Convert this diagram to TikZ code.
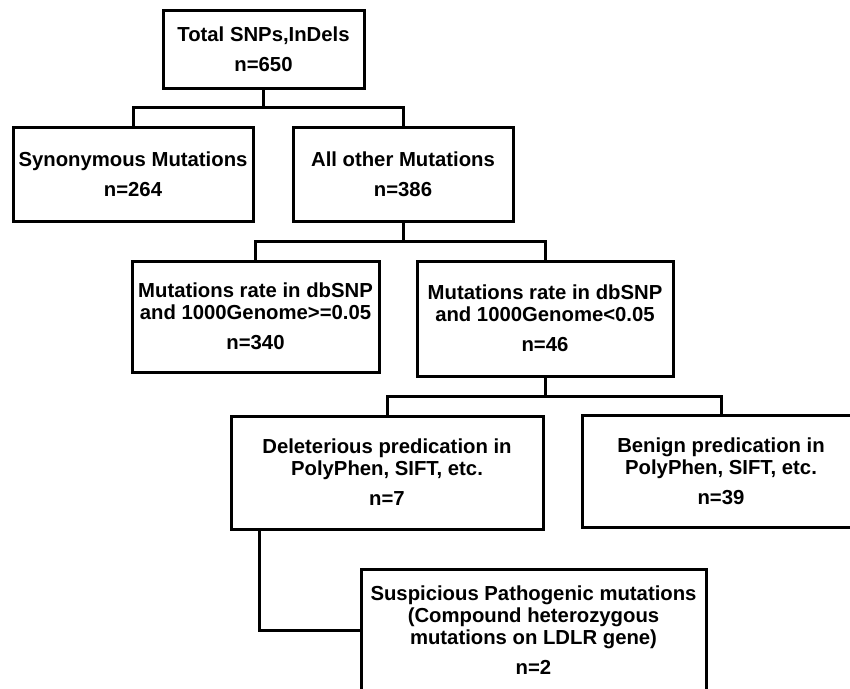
\documentclass[tikz,border=0pt]{standalone}
\usepackage{fontspec}
\setmainfont{Liberation Sans}
\begin{document}
\begin{tikzpicture}[x=1pt,y=-1pt,
  box/.style={draw,line width=3pt,rectangle,inner sep=2pt,align=center,
    font=\fontsize{20.3}{22}\selectfont\bfseries},
  link/.style={line width=3pt}]
\useasboundingbox (0,0) rectangle (850,688);
\clip (0,0) rectangle (850,688);
\fill[white] (0,0) rectangle (850,688);
\node[box,minimum width=201,minimum height=78] (tot) at (263.5,49) {Total SNPs,InDels\\[8pt]n=650};
\node[box,minimum width=240,minimum height=94] (syn) at (133,174) {Synonymous Mutations\\[8pt]n=264};
\node[box,minimum width=220,minimum height=94] (oth) at (403,174) {All other Mutations\\[8pt]n=386};
\node[box,minimum width=247,minimum height=111] (hi) at (255.5,316.5) {Mutations rate in dbSNP\\and 1000Genome>=0.05\\[8pt]n=340};
\node[box,minimum width=256,minimum height=115] (lo) at (545,318.5) {Mutations rate in dbSNP\\and 1000Genome<0.05\\[8pt]n=46};
\node[box,minimum width=312,minimum height=113] (del) at (387,472.5) {Deleterious predication in\\PolyPhen, SIFT, etc.\\[8pt]n=7};
\node[box,minimum width=278,minimum height=112] (ben) at (721,471) {Benign predication in\\PolyPhen, SIFT, etc.\\[8pt]n=39};
\node[box,minimum width=345,minimum height=123] (sus) at (533.5,630.5) {Suspicious Pathogenic mutations\\(Compound heterozygous\\mutations on LDLR gene)\\[8pt]n=2};
\coordinate (b1) at (0,107);
\coordinate (b2) at (0,241);
\coordinate (b3) at (0,396);
\draw[link] (tot.south) -- (tot.south |- b1);
\draw[link] (syn.north) -- (syn.north |- b1) -- (oth.north |- b1) -- (oth.north);
\draw[link] (oth.south) -- (oth.south |- b2);
\draw[link] (hi.north) -- (hi.north |- b2) -- (lo.north |- b2) -- (lo.north);
\draw[link] (lo.south) -- (lo.south |- b3);
\draw[link] (del.north) -- (del.north |- b3) -- (ben.north |- b3) -- (ben.north);
\coordinate (dl) at ([xshift=30]del.south west);
\draw[link] (dl) -- (dl |- sus.west) -- (sus.west);
\end{tikzpicture}
\end{document}
